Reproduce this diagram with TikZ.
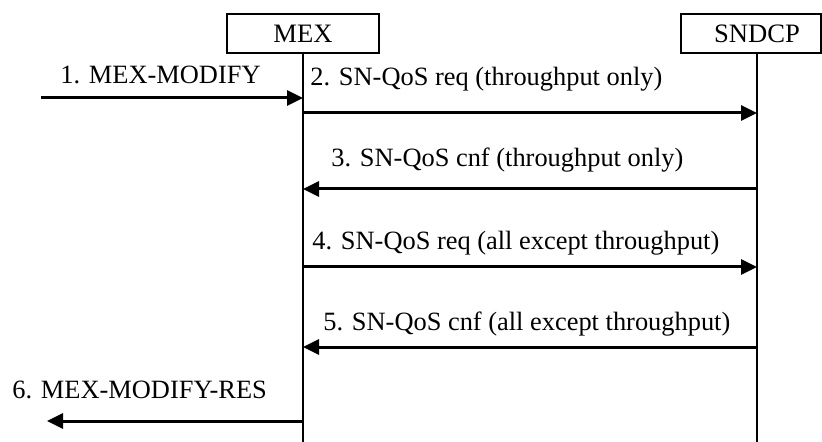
\documentclass[tikz,border=0pt]{standalone}
\usepackage{fontspec}
\setmainfont{Liberation Serif}
\usetikzlibrary{arrows.meta}
\begin{document}
\begin{tikzpicture}[x=0.5pt,y=-0.5pt,
  ent/.style={draw,line width=1pt,minimum width=76pt,minimum height=19.5pt,inner sep=0pt,font=\fontsize{13.3}{16}\selectfont},
  life/.style={line width=1.1pt},
  msg/.style={line width=1.5pt,-{Triangle[length=8pt,width=7.5pt]}},
  lbl/.style={anchor=base west,inner sep=0pt,font=\fontsize{13.2}{16}\selectfont}]
\useasboundingbox (0,0) rectangle (822,442);
% entities
\node[ent] (mex) at (303,33.5) {MEX};
\node[ent,minimum width=69.75pt] (snd) at (750.75,33.5) {\hspace*{6.25pt}SNDCP};
% lifelines
\coordinate (mexend) at (303,442);
\coordinate (sndtop) at (757,53);
\coordinate (sndend) at (757,442);
\draw[life] (mex.south) -- (mexend);
\draw[life] (sndtop) -- (sndend);
% message points
\coordinate (m1s) at (41,98);   \coordinate (m1e) at (303,98);
\coordinate (m2s) at (303,113); \coordinate (m2e) at (757,113);
\coordinate (m3s) at (757,189); \coordinate (m3e) at (303,189);
\coordinate (m4s) at (303,267); \coordinate (m4e) at (757,267);
\coordinate (m5s) at (757,347); \coordinate (m5e) at (303,347);
\coordinate (m6s) at (303,421); \coordinate (m6e) at (47,421);
\draw[msg] (m1s) -- (m1e);
\draw[msg] (m2s) -- (m2e);
\draw[msg] (m3s) -- (m3e);
\draw[msg] (m4s) -- (m4e);
\draw[msg] (m5s) -- (m5e);
\draw[msg] (m6s) -- (m6e);
% labels
\node[lbl] (l1) at (60,84) {1. MEX-MODIFY};
\node[lbl] (l2) at (310,86) {2. SN-QoS req (throughput only)};
\node[lbl] (l3) at (331,167) {3. SN-QoS cnf (throughput only)};
\node[lbl] (l4) at (312,250) {4. SN-QoS req (all except throughput)};
\node[lbl] (l5) at (323,330) {5. SN-QoS cnf (all except throughput)};
\node[lbl] (l6) at (12,398) {6. MEX-MODIFY-RES};
\end{tikzpicture}
\end{document}
